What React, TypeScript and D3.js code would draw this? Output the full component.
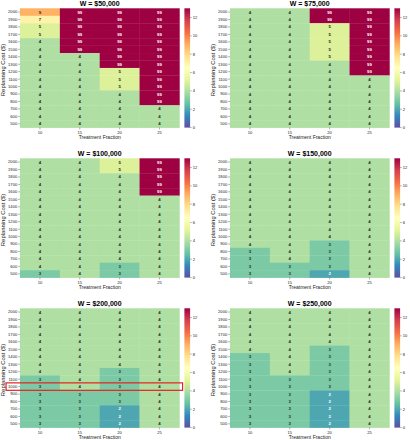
import React from "react";
import * as d3 from "d3";

const fractions = [10, 15, 20, 25];
const costs = [2000, 1900, 1800, 1700, 1600, 1500, 1400, 1300, 1200, 1100, 1000, 900, 800, 700, 600, 500];
const cbarTicks = [0, 2, 4, 6, 8, 10, 12];
const titles = ["W = $50,000", "W = $75,000", "W = $100,000", "W = $150,000", "W = $200,000", "W = $250,000"];

// rows: cost 2000 -> 500, columns: fraction 10,15,20,25
const w50k = [
  [9, 99, 99, 99], [7, 99, 99, 99], [5, 99, 99, 99], [5, 99, 99, 99],
  [4, 99, 99, 99], [4, 99, 99, 99], [4, 4, 99, 99], [4, 4, 99, 99],
  [4, 4, 5, 99], [4, 4, 5, 99], [4, 4, 5, 99], [4, 4, 4, 99],
  [4, 4, 4, 99], [4, 4, 4, 4], [4, 4, 4, 4], [4, 4, 4, 4],
];
const w75k = [
  [4, 4, 99, 99], [4, 4, 99, 99], [4, 4, 5, 99], [4, 4, 5, 99],
  [4, 4, 5, 99], [4, 4, 5, 99], [4, 4, 5, 99], [4, 4, 4, 99],
  [4, 4, 4, 99], [4, 4, 4, 4], [4, 4, 4, 4], [4, 4, 4, 4],
  [4, 4, 4, 4], [4, 4, 4, 4], [4, 4, 4, 4], [4, 4, 4, 4],
];
const w100k = [
  [4, 4, 5, 99], [4, 4, 5, 99], [4, 4, 4, 99], [4, 4, 4, 99],
  [4, 4, 4, 99], [4, 4, 4, 4], [4, 4, 4, 4], [4, 4, 4, 4],
  [4, 4, 4, 4], [4, 4, 4, 4], [4, 4, 4, 4], [4, 4, 4, 4],
  [4, 4, 4, 4], [4, 4, 4, 4], [4, 4, 3, 4], [3, 4, 3, 4],
];
const w150k = [
  [4, 4, 4, 4], [4, 4, 4, 4], [4, 4, 4, 4], [4, 4, 4, 4],
  [4, 4, 4, 4], [4, 4, 4, 4], [4, 4, 4, 4], [4, 4, 4, 4],
  [4, 4, 4, 4], [4, 4, 4, 4], [4, 4, 4, 4], [4, 4, 3, 4],
  [3, 4, 3, 4], [3, 4, 3, 4], [3, 3, 3, 4], [3, 3, 2, 4],
];
const w200k = [
  [4, 4, 4, 4], [4, 4, 4, 4], [4, 4, 4, 4], [4, 4, 4, 4],
  [4, 4, 4, 4], [4, 4, 4, 4], [4, 4, 4, 4], [4, 4, 4, 4],
  [4, 4, 3, 4], [3, 4, 3, 4], [3, 4, 3, 4], [3, 3, 3, 4],
  [3, 3, 3, 4], [3, 3, 2, 4], [3, 3, 2, 4], [3, 3, 2, 4],
];
const w250k = [
  [4, 4, 4, 4], [4, 4, 4, 4], [4, 4, 4, 4], [4, 4, 4, 4],
  [4, 4, 4, 4], [4, 4, 3, 4], [3, 4, 3, 4], [3, 4, 3, 4],
  [3, 4, 3, 4], [3, 3, 3, 4], [3, 3, 3, 4], [3, 3, 2, 4],
  [3, 3, 2, 4], [3, 3, 2, 4], [3, 3, 2, 4], [3, 3, 2, 4],
];
const panels = [w50k, w75k, w100k, w150k, w200k, w250k];
const highlightPanel = 4;
const highlightCost = 1000;

const spectral = ["#9e0142", "#d53e4f", "#f46d43", "#fdae61", "#fee08b", "#ffffbf", "#e6f598", "#abdda4", "#66c2a5", "#3288bd", "#5e4fa2"].reverse();
const VMIN = 0;
const VMAX = 13;
const cmap = d3
  .scaleLinear<string>()
  .domain(spectral.map((_, i) => VMIN + (i / (spectral.length - 1)) * (VMAX - VMIN)))
  .range(spectral)
  .interpolate(d3.interpolateRgb)
  .clamp(true);

function lum(c: string) {
  const rgb = d3.rgb(c);
  const f = (v: number) => {
    const s = v / 255;
    return s <= 0.03928 ? s / 12.92 : Math.pow((s + 0.055) / 1.055, 2.4);
  };
  return 0.2126 * f(rgb.r) + 0.7152 * f(rgb.g) + 0.0722 * f(rgb.b);
}

const FONT = "'Liberation Sans', Arial, sans-serif";
const colLeft = [20, 230];
const rowTop = [8.3, 158.3, 308.3];
const W = 159.4;
const H = 119.3;

function Panel({ idx }: { idx: number }) {
  const data = panels[idx];
  const left = colLeft[idx % 2];
  const top = rowTop[Math.floor(idx / 2)];
  const x = d3.scaleBand<number>().domain(fractions).range([left, left + W]);
  const y = d3.scaleBand<number>().domain(costs).range([top, top + H]);
  const cbX = left + W + 5;
  const cbW = 5.7;
  const cy = d3.scaleLinear().domain([VMIN, VMAX]).range([top + H, top]);
  const gradId = `grad${idx}`;
  return (
    <g>
      <defs>
        <linearGradient id={gradId} x1="0" y1="1" x2="0" y2="0">
          {spectral.map((c, i) => (
            <stop key={i} offset={i / (spectral.length - 1)} stopColor={c} />
          ))}
        </linearGradient>
      </defs>
      {data.map((row, ri) =>
        row.map((v, ci) => {
          const fill = cmap(v);
          return (
            <g key={`${ri}-${ci}`}>
              <rect
                x={x(fractions[ci])!}
                y={y(costs[ri])!}
                width={x.bandwidth() + 0.3}
                height={y.bandwidth() + 0.3}
                fill={fill}
              />
              <text
                x={x(fractions[ci])! + x.bandwidth() / 2}
                y={y(costs[ri])! + y.bandwidth() / 2}
                dy="0.35em"
                textAnchor="middle"
                fontSize={4.3}
                fontWeight="bold"
                fill={lum(fill) > 0.408 ? "#262626" : "#ffffff"}
              >
                {v}
              </text>
            </g>
          );
        })
      )}
      {costs.map((c) => (
        <g key={c}>
          <line x1={left - 1.8} x2={left} y1={y(c)! + y.bandwidth() / 2} y2={y(c)! + y.bandwidth() / 2} stroke="#333" strokeWidth={0.4} />
          <text x={left - 2.8} y={y(c)! + y.bandwidth() / 2} dy="0.35em" textAnchor="end" fontSize={4.1} fill="#222">
            {c}
          </text>
        </g>
      ))}
      {fractions.map((f) => (
        <g key={f}>
          <line x1={x(f)! + x.bandwidth() / 2} x2={x(f)! + x.bandwidth() / 2} y1={top + H} y2={top + H + 1.8} stroke="#333" strokeWidth={0.4} />
          <text x={x(f)! + x.bandwidth() / 2} y={top + H + 6} textAnchor="middle" fontSize={4.1} fill="#222">
            {f}
          </text>
        </g>
      ))}
      <text x={left + W / 2} y={top + H + 11.2} textAnchor="middle" fontSize={5} fill="#222">
        Treatment Fraction
      </text>
      <text
        transform={`translate(${left - 15.2},${top + H / 2 + 2}) rotate(-90)`}
        textAnchor="middle"
        fontSize={5.9}
        fill="#222"
      >
        Replanning Cost ($)
      </text>
      <text x={left + W / 2} y={top - 2} textAnchor="middle" fontSize={7} fontWeight="bold" fill="#000">
        {titles[idx]}
      </text>
      <rect x={cbX} y={top} width={cbW} height={H} fill={`url(#${gradId})`} />
      {cbarTicks.map((t) => (
        <g key={t}>
          <line x1={cbX + cbW} x2={cbX + cbW + 1.6} y1={cy(t)} y2={cy(t)} stroke="#333" strokeWidth={0.4} />
          <text x={cbX + cbW + 2.6} y={cy(t)} dy="0.35em" fontSize={4.1} fill="#222">
            {t}
          </text>
        </g>
      ))}
      {idx === highlightPanel && (
        <rect
          x={left - 0.35 * x.bandwidth()}
          y={y(highlightCost)!}
          width={4.43 * x.bandwidth()}
          height={y.bandwidth()}
          fill="none"
          stroke="#e8201e"
          strokeWidth={1.2}
        />
      )}
    </g>
  );
}

export default function App() {
  return (
    <svg
      width={410}
      height={440}
      style={{ position: "absolute", left: 0, top: 0, background: "#fff" }}
      fontFamily={FONT}
    >
      <rect width={410} height={440} fill="#fff" />
      {panels.map((_, i) => (
        <Panel key={i} idx={i} />
      ))}
    </svg>
  );
}
